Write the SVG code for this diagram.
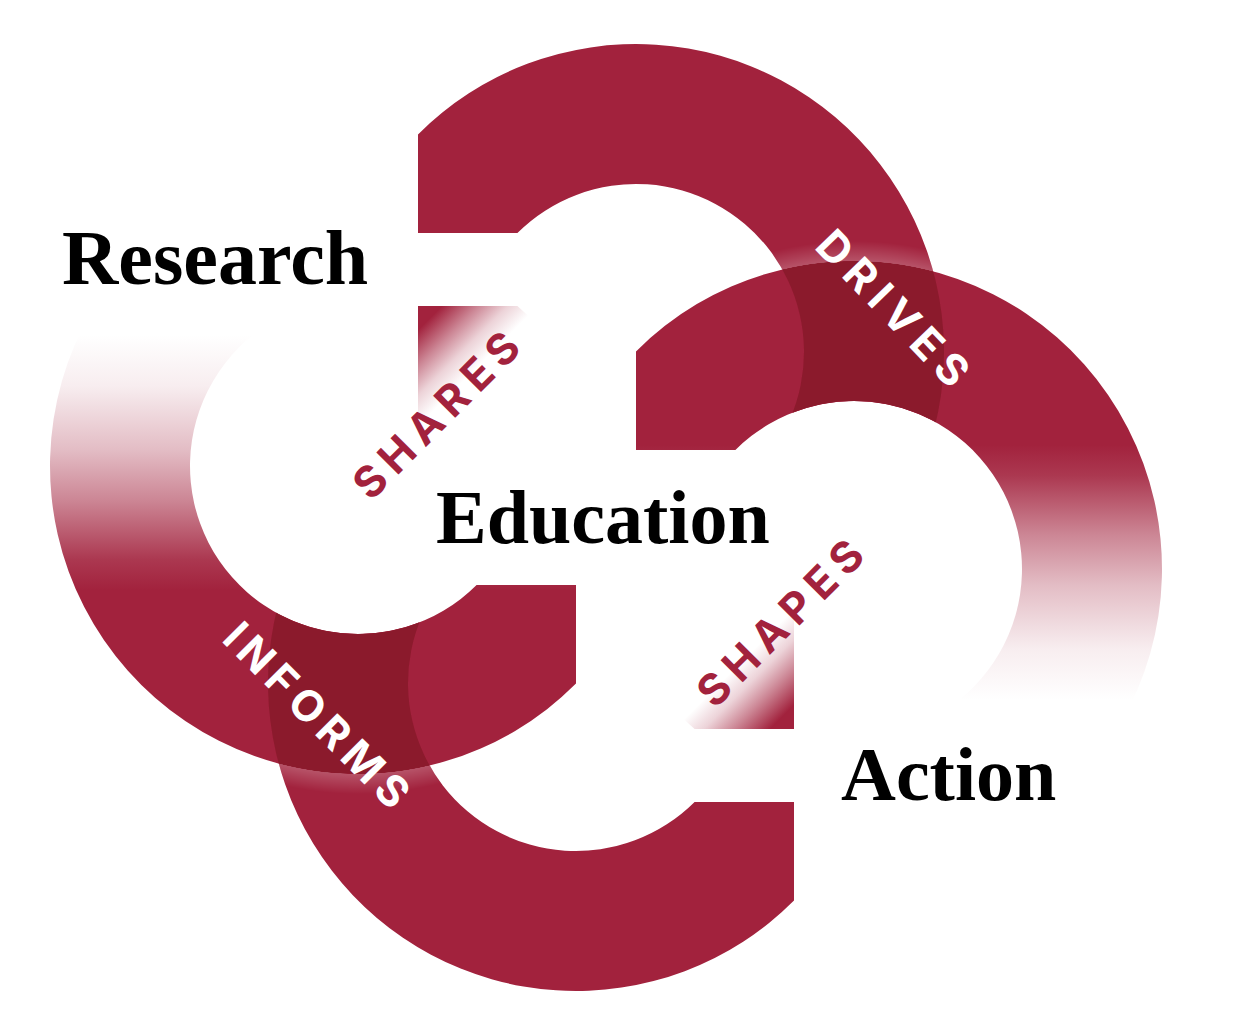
<svg xmlns="http://www.w3.org/2000/svg" width="1242" height="1028" viewBox="0 0 1242 1028">
  <style>
    .big { font-family: "Liberation Serif", "Times New Roman", serif; font-weight: 700; fill: #000000; }
    .verb { font-family: Inter, "Noto Sans", "Liberation Sans", sans-serif; font-weight: 700; font-size: 43px; letter-spacing: 8px; text-anchor: middle; }
    .on-ring { fill: #ffffff; }
    .on-white { fill: #A2223D; }
    .solid { fill: #A2223D; }
    .dark { fill: #8B1A2C; }
  </style>
  <defs>
    <linearGradient id="gFade" gradientUnits="userSpaceOnUse" x1="0" y1="445" x2="0" y2="700">
      <stop offset="0" stop-color="#A2223D" stop-opacity="1"/>
      <stop offset="0.12" stop-color="#A2223D" stop-opacity="0.9"/>
      <stop offset="0.35" stop-color="#A2223D" stop-opacity="0.55"/>
      <stop offset="0.55" stop-color="#A2223D" stop-opacity="0.3"/>
      <stop offset="0.8" stop-color="#A2223D" stop-opacity="0.08"/>
      <stop offset="1" stop-color="#A2223D" stop-opacity="0"/>
    </linearGradient>
    <linearGradient id="gArm" gradientUnits="userSpaceOnUse" x1="418" y1="306" x2="478" y2="366">
      <stop offset="0" stop-color="#A2223D" stop-opacity="1"/>
      <stop offset="0.2" stop-color="#A2223D" stop-opacity="1"/>
      <stop offset="0.5" stop-color="#A2223D" stop-opacity="0.55"/>
      <stop offset="0.75" stop-color="#A2223D" stop-opacity="0.2"/>
      <stop offset="1" stop-color="#A2223D" stop-opacity="0"/>
    </linearGradient>
    <radialGradient id="gGlow" gradientUnits="userSpaceOnUse" cx="854" cy="569" r="328">
      <stop offset="0" stop-color="#ffffff" stop-opacity="0"/>
      <stop offset="0.938" stop-color="#ffffff" stop-opacity="0"/>
      <stop offset="0.939" stop-color="#ffffff" stop-opacity="0.22"/>
      <stop offset="1" stop-color="#ffffff" stop-opacity="0"/>
    </radialGradient>
    <clipPath id="outsideHole" clipPathUnits="userSpaceOnUse">
      <path clip-rule="evenodd" d="M-200,-200H1442V1228H-200Z M686,569a168,168 0 1,0 336,0a168,168 0 1,0 -336,0Z"/>
    </clipPath>
    <clipPath id="insideRing" clipPathUnits="userSpaceOnUse">
      <path clip-rule="evenodd" d="M546,569a308,308 0 1,0 616,0a308,308 0 1,0 -616,0Z M686,569a168,168 0 1,0 336,0a168,168 0 1,0 -336,0Z"/>
    </clipPath>
    <path id="shapeSide" d="M636,450 L636,351.42 A308,308 0 1 1 827.16,875.83 L839.36,736.36 A168,168 0 1 0 735.41,450 Z"/>
    <path id="shapeTop" d="M418,233 L418,134.42 A308,308 0 1 1 790,618.74 L720,497.49 A168,168 0 1 0 517.41,233 Z"/>
    <path id="shapeArm" d="M418,306 L517.41,306 A168,168 0 0 0 636,355 L636,520 L418,520 Z"/>
  </defs>

  <rect x="0" y="0" width="1242" height="1028" fill="#ffffff"/>

  <g id="connectors">
    <g id="ring-left" transform="rotate(180 606 517.5)">
      <use href="#shapeSide" fill="url(#gFade)"/>
    </g>
    <g id="ring-right">
      <use href="#shapeSide" fill="url(#gFade)"/>
    </g>
    <g id="ring-top" clip-path="url(#outsideHole)">
      <use href="#shapeTop" class="solid"/>
      <use href="#shapeTop" class="dark" clip-path="url(#insideRing)"/>
      <use href="#shapeTop" fill="url(#gGlow)"/>
    </g>
    <g transform="rotate(180 606 517.5)">
      <g id="ring-bottom" clip-path="url(#outsideHole)">
        <use href="#shapeTop" class="solid"/>
        <use href="#shapeTop" class="dark" clip-path="url(#insideRing)"/>
        <use href="#shapeTop" fill="url(#gGlow)"/>
      </g>
    </g>
    <g id="arm-shares">
      <use href="#shapeArm" fill="url(#gArm)"/>
    </g>
    <g id="arm-shapes" transform="rotate(180 606 517.5)">
      <use href="#shapeArm" fill="url(#gArm)"/>
    </g>

    <g id="label-shares"><text class="verb on-white" transform="translate(436,415) rotate(-45)" x="4" y="15.5">SHARES</text></g>
    <g id="label-shapes"><text class="verb on-white" transform="translate(780,623) rotate(-45)" x="4" y="15.5">SHAPES</text></g>
    <g id="label-drives"><text class="verb on-ring" transform="translate(893,308) rotate(46)" x="4" y="15.5">DRIVES</text></g>
    <g id="label-informs"><text class="verb on-ring" transform="translate(317,715) rotate(45)" x="3.5" y="15.5" style="letter-spacing:7px">INFORMS</text></g>
  </g>

  <g id="node-research"><text class="big" x="62" y="284" font-size="78">Research</text></g>
  <g id="node-education"><text class="big" x="436" y="543" font-size="76">Education</text></g>
  <g id="node-action"><text class="big" x="841" y="800" font-size="76">Action</text></g>
</svg>
